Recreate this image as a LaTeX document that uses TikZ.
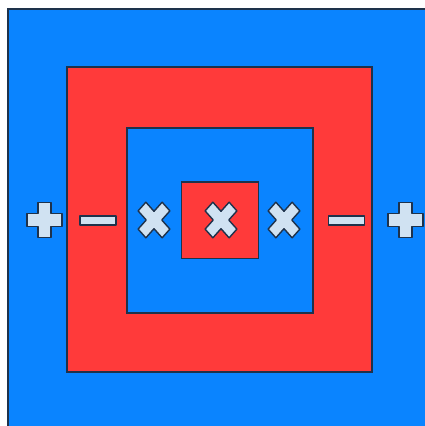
\documentclass[tikz,border=0pt]{standalone}
\usetikzlibrary{calc}
\definecolor{bgblue}{RGB}{10,132,255}
\definecolor{ringred}{RGB}{255,58,58}
\definecolor{edgedark}{RGB}{30,50,75}
\definecolor{symbfill}{RGB}{208,226,242}

\begin{document}
\begin{tikzpicture}[x=1pt, y=-1pt]
  \tikzset{
    panel/.style={draw=edgedark, line width=1.6pt},
    symb/.style={draw=edgedark, fill=symbfill, line width=1.4pt, line join=round}
  }
  \newcommand\armlen{17.5}
  \newcommand\armhalf{6.5}
  \newcommand\drawplus[4]{
    \draw[symb, shift={(#1,220)}, #4] (-#2,-#3) -- (-#3,-#3) -- (-#3,-#2) -- (#3,-#2)
      -- (#3,-#3) -- (#2,-#3) -- (#2,#3) -- (#3,#3) -- (#3,#2) -- (-#3,#2)
      -- (-#3,#3) -- (-#2,#3) -- cycle;
  }
  \newcommand\drawminus[1]{
    \draw[symb] (#1,220.5)++(-18,-4.5) rectangle ++(36,9);
  }

  \useasboundingbox (0,0) rectangle (425,426);

  % background and squares
  \draw[panel, fill=bgblue] (8,9) rectangle (430,430);
  \draw[panel, fill=ringred] (67,67) rectangle (372,372);
  \draw[panel, fill=bgblue] (127,128) rectangle (313,313);
  \draw[panel, fill=ringred] (181.5,182) rectangle (258.5,258.5);

  % signs
  \drawplus{44.5}{\armlen}{\armhalf}{}
  \drawplus{405.5}{\armlen}{\armhalf}{}
  \drawminus{98}
  \drawminus{346.5}
  %
  \drawplus{154}{17}{5.5}{yscale=1.12, rotate=45}
  \drawplus{221}{17}{5.5}{yscale=1.12, rotate=45}
  \drawplus{284}{17}{5.5}{yscale=1.12, rotate=45}
\end{tikzpicture}
\end{document}
